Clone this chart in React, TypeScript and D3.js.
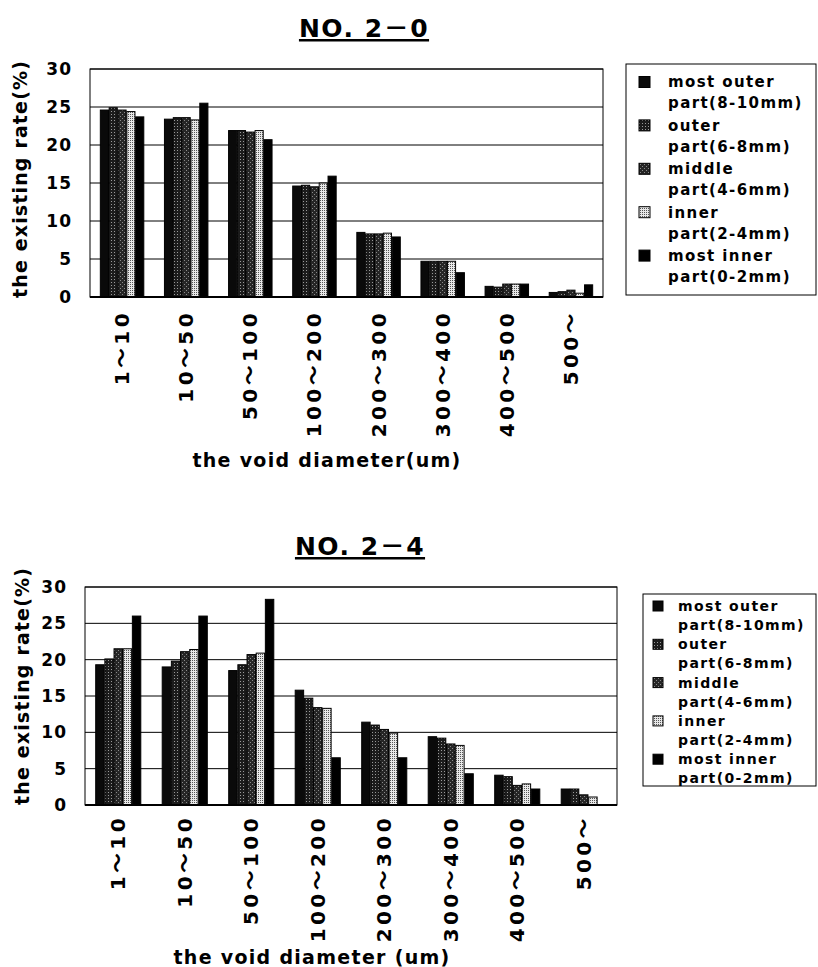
import React from 'react';
import * as d3 from 'd3';

const categories = ['1～10', '10～50', '50～100', '100～200', '200～300', '300～400', '400～500', '500～'];
const legendLine1 = ['most outer', 'outer', 'middle', 'inner', 'most inner'];
const legendLine2 = ['part(8-10mm)', 'part(6-8mm)', 'part(4-6mm)', 'part(2-4mm)', 'part(0-2mm)'];
const yTicks = [0, 5, 10, 15, 20, 25, 30];

// Chart NO. 2-0
const topMostOuter = [24.6, 23.4, 21.9, 14.6, 8.5, 4.7, 1.4, 0.6];
const topOuter = [24.9, 23.6, 21.9, 14.7, 8.3, 4.7, 1.3, 0.7];
const topMiddle = [24.6, 23.6, 21.7, 14.5, 8.3, 4.7, 1.7, 0.9];
const topInner = [24.4, 23.3, 21.9, 15.0, 8.4, 4.7, 1.7, 0.5];
const topMostInner = [23.7, 25.5, 20.7, 15.9, 7.9, 3.2, 1.7, 1.6];

// Chart NO. 2-4
const botMostOuter = [19.3, 19.0, 18.5, 15.8, 11.4, 9.4, 4.1, 2.2];
const botOuter = [20.1, 19.8, 19.3, 14.7, 11.0, 9.2, 3.9, 2.2];
const botMiddle = [21.5, 21.1, 20.7, 13.4, 10.4, 8.4, 2.7, 1.4];
const botInner = [21.5, 21.4, 20.9, 13.3, 9.9, 8.2, 2.9, 1.1];
const botMostInner = [26.0, 26.0, 28.3, 6.5, 6.5, 4.3, 2.2, 0];

const FONT = "'DejaVu Sans', 'Noto Sans CJK JP', sans-serif";
const fills = ['url(#p0)', 'url(#p1)', 'url(#p2)', 'url(#p3)', 'url(#p4)'];

type Cfg = {
  title: string; titleX: number; titleY: number;
  x0: number; x1: number; y0: number; y1: number;
  tickRight: number; yTitleX: number; yTitleY: number;
  labelTop: number; xTitle: string; xTitleX: number; xTitleY: number;
  lgX: number; lgY: number; lgW: number; lgH: number; mkX: number; mkS: number;
  txX: number; line1: number; lineGap: number; entryGap: number; lgFont: number;
  series: number[][];
};

function Chart({ c }: { c: Cfg }) {
  const x = d3.scaleBand<string>().domain(categories).range([c.x0, c.x1]).paddingInner(0.3).paddingOuter(0.15);
  const xs = d3.scaleBand<number>().domain(d3.range(c.series.length)).range([0, x.bandwidth()]).padding(0.08);
  const y = d3.scaleLinear().domain([0, 30]).range([c.y1, c.y0]);
  return (
    <g fontFamily={FONT} fontWeight="bold" fill="#000">
      <text x={c.titleX} y={c.titleY} fontSize={25} textAnchor="middle" textDecoration="underline" letterSpacing={1.5}>{c.title}</text>
      {yTicks.map(t => (
        <line key={'g' + t} x1={c.x0} x2={c.x1} y1={y(t)} y2={y(t)} stroke="#000" strokeWidth={1} />
      ))}
      <rect x={c.x0} y={c.y0} width={c.x1 - c.x0} height={c.y1 - c.y0} fill="none" stroke="#000" strokeWidth={1} />
      {c.series.map((s, si) => s.map((v, ci) => (
        v > 0 ? <rect key={si + '-' + ci} x={(x(categories[ci]) as number) + (xs(si) as number)} y={y(v)} width={xs.bandwidth()} height={y(0) - y(v)}
          fill={fills[si]} stroke="#000" strokeWidth={1} /> : null
      )))}
      <line x1={c.x0} x2={c.x1} y1={y(0)} y2={y(0)} stroke="#000" strokeWidth={2} />
      {yTicks.map(t => (
        <text key={'t' + t} x={c.tickRight} y={y(t)} dy="0.36em" fontSize={17} textAnchor="end" letterSpacing={1}>{t}</text>
      ))}
      <text transform={`translate(${c.yTitleX},${c.yTitleY}) rotate(-90)`} fontSize={19} textAnchor="middle" dominantBaseline="central" letterSpacing={1.15}>the existing rate(%)</text>
      {categories.map(cat => (
        <text key={cat} transform={`translate(${(x(cat) as number) + x.bandwidth() / 2},${c.labelTop}) rotate(-90)`} fontSize={20} textAnchor="end" dominantBaseline="central" letterSpacing={3.4}>{cat}</text>
      ))}
      <text x={c.xTitleX} y={c.xTitleY} fontSize={19} textAnchor="middle" letterSpacing={1.3}>{c.xTitle}</text>
      <rect x={c.lgX} y={c.lgY} width={c.lgW} height={c.lgH} fill="#fff" stroke="#000" strokeWidth={1} />
      {legendLine1.map((l, i) => {
        const cy = c.line1 + i * c.entryGap;
        return (
          <g key={l}>
            <rect x={c.mkX} y={cy - c.mkS / 2} width={c.mkS} height={c.mkS} fill={fills[i]} stroke="#000" strokeWidth={1} />
            <text x={c.txX} y={cy} dy="0.36em" fontSize={c.lgFont} letterSpacing={1.4}>{l}</text>
            <text x={c.txX} y={cy + c.lineGap} dy="0.36em" fontSize={c.lgFont} letterSpacing={1.4}>{legendLine2[i]}</text>
          </g>
        );
      })}
    </g>
  );
}

const topCfg: Cfg = {
  title: 'NO. 2－0', titleX: 364, titleY: 37,
  x0: 90, x1: 603, y0: 69, y1: 297,
  tickRight: 72, yTitleX: 20, yTitleY: 179,
  labelTop: 310, xTitle: 'the void diameter(um)', xTitleX: 327, xTitleY: 467,
  lgX: 626, lgY: 64, lgW: 190, lgH: 231, mkX: 639, mkS: 11,
  txX: 668, line1: 82, lineGap: 21, entryGap: 43.4, lgFont: 15,
  series: [topMostOuter, topOuter, topMiddle, topInner, topMostInner],
};

const botCfg: Cfg = {
  title: 'NO. 2－4', titleX: 360, titleY: 555,
  x0: 85, x1: 617, y0: 587, y1: 805,
  tickRight: 67, yTitleX: 22, yTitleY: 686,
  labelTop: 815, xTitle: 'the void diameter (um)', xTitleX: 312, xTitleY: 964,
  lgX: 643, lgY: 594, lgW: 173, lgH: 192, mkX: 653, mkS: 10,
  txX: 678, line1: 606, lineGap: 19, entryGap: 38.3, lgFont: 14,
  series: [botMostOuter, botOuter, botMiddle, botInner, botMostInner],
};

export default function App() {
  return (
    <svg width={818} height={967} style={{ position: 'absolute', left: 0, top: 0, background: '#fff' }}>
      <defs>
        <pattern id="p0" width={4} height={4} patternUnits="userSpaceOnUse">
          <rect width={4} height={4} fill="#0a0a0a" />
        </pattern>
        <pattern id="p1" width={3} height={3} patternUnits="userSpaceOnUse">
          <rect width={3} height={3} fill="#1c1c1c" />
          <rect x={0} y={0} width={1} height={1} fill="#9a9a9a" />
        </pattern>
        <pattern id="p2" width={4} height={4} patternUnits="userSpaceOnUse">
          <rect width={4} height={4} fill="#262626" />
          <rect x={0} y={0} width={1} height={1} fill="#8a8a8a" />
          <rect x={2} y={2} width={1} height={1} fill="#8a8a8a" />
        </pattern>
        <pattern id="p3" width={2} height={2} patternUnits="userSpaceOnUse">
          <rect width={2} height={2} fill="#e8e8e8" />
          <rect x={0} y={0} width={1} height={1} fill="#555" />
        </pattern>
        <pattern id="p4" width={4} height={4} patternUnits="userSpaceOnUse">
          <rect width={4} height={4} fill="#000" />
        </pattern>
      </defs>
      <Chart c={topCfg} />
      <Chart c={botCfg} />
    </svg>
  );
}
